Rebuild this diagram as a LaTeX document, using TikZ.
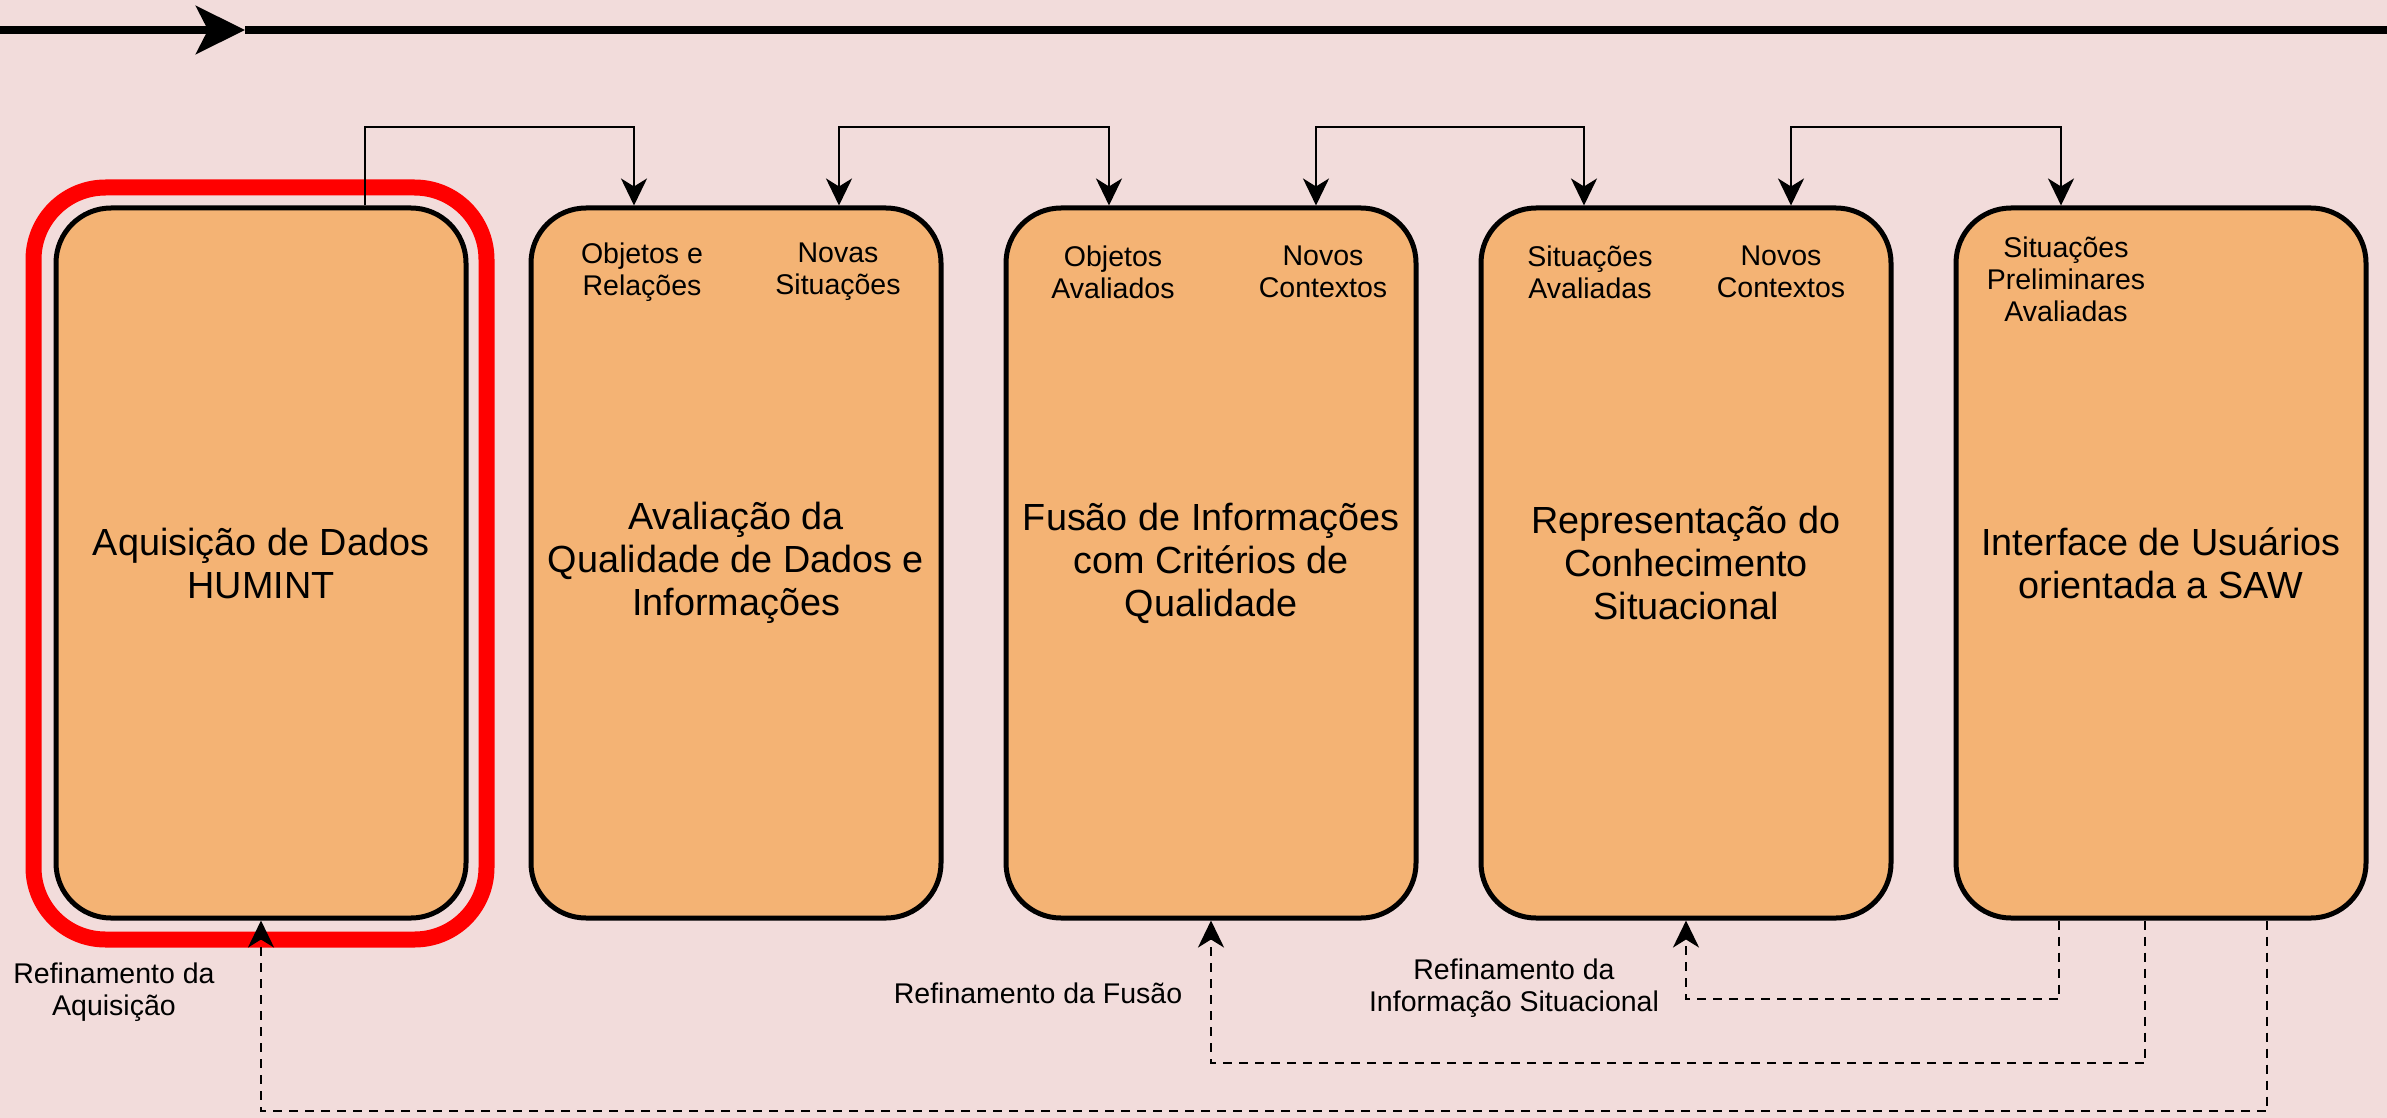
\documentclass[tikz,border=0pt]{standalone}
\usepackage{fontspec}
\setmainfont{Liberation Sans}
\usetikzlibrary{arrows.meta, calc}
\definecolor{bgpink}{HTML}{F2DCDB}
\definecolor{boxorange}{HTML}{F4B374}
\tikzset{stage box/.style={draw=black, line width=5pt, fill=boxorange,
    rounded corners=55pt, minimum width=410pt, minimum height=710pt,
    inner sep=0pt, align=center, font=\fontsize{37.8}{43}\selectfont},
  small text/.style={inner sep=0pt, align=center,
    font=\fontsize{28.5}{32}\selectfont},
  flow arrow/.style={line width=2.5pt, -{Stealth[length=27pt, width=26pt, inset=8pt]}},
  both arrow/.style={line width=2.5pt,
    {Stealth[length=27pt, width=26pt, inset=8pt]}-{Stealth[length=27pt, width=26pt, inset=8pt]}},
  refine arrow/.style={flow arrow, dash pattern=on 9pt off 7pt},}

\begin{document}
\begin{tikzpicture}[x=1pt, y=-1pt]
                    \useasboundingbox (0,0) rectangle (2387,1118);
                    \fill[bgpink] (0,0) rectangle (2387,1118);
                    %Define start and endpoints of the time line:
                    \coordinate (t0) at (0,30);
                    \coordinate (t1) at (245,30);
                    \coordinate (t2) at (2387,30);
                        \draw[line width=8pt, -{Stealth[length=49pt, width=48pt, inset=12pt]}] (t0) -- (t1);
                        \draw[line width=8pt] (t1) -- (t2);
                    %Stages:
                    \node[stage box] (acq) at (261,563) {Aquisição de Dados\\HUMINT};
                    \node[stage box] (qual) at (736,563) {Avaliação da\\Qualidade de Dados e\\Informações};
                    \node[stage box] (fus) at (1211,563) {Fusão de Informações\\com Critérios de\\Qualidade};
                    \node[stage box] (rep) at (1686,563) {Representação do\\Conhecimento\\Situacional};
                    \node[stage box] (ui) at (2161,563) {Interface de Usuários\\orientada a SAW};
                    %Highlight of the first stage - red:
                        \draw[red, line width=16pt, rounded corners=72pt]
                            ([shift={(-20,-18)}]acq.north west) rectangle ([shift={(18,19)}]acq.south east);
                    %Define ports on top of the stages:
                    \coordinate (hi) at (0,127);
                    \coordinate (acqr) at ([xshift=104pt]acq.north);
                    \coordinate (quall) at ([xshift=-102pt]qual.north);
                    \coordinate (qualr) at ([xshift=103pt]qual.north);
                    \coordinate (fusl) at ([xshift=-102pt]fus.north);
                    \coordinate (fusr) at ([xshift=105pt]fus.north);
                    \coordinate (repl) at ([xshift=-102pt]rep.north);
                    \coordinate (repr) at ([xshift=105pt]rep.north);
                    \coordinate (uil) at ([xshift=-100pt]ui.north);
                    %Draw forward flow on top:
                        \draw[flow arrow] (acqr) -- (acqr |- hi) -| (quall);
                        \draw[both arrow] (qualr) -- (qualr |- hi) -| (fusl);
                        \draw[both arrow] (fusr) -- (fusr |- hi) -| (repl);
                        \draw[both arrow] (repr) -- (repr |- hi) -| (uil);
                    %Inputs and outputs inside the stages:
                    \node[small text] (qualin) at (642,272) {Objetos e\\Relações};
                    \node[small text] (qualout) at (838,272) {Novas\\Situações};
                    \node[small text] (fusin) at (1113,272) {Objetos\\Avaliados};
                    \node[small text] (fusout) at (1323,272) {Novos\\Contextos};
                    \node[small text] (repin) at (1590,272) {Situações\\Avaliadas};
                    \node[small text] (repout) at (1781,272) {Novos\\Contextos};
                    \node[small text] (uiin) at (2066,279) {Situações\\Preliminares\\Avaliadas};
                    %Define and draw refinement loops - dashed:
                    \coordinate (lo1) at (0,999);
                    \coordinate (lo2) at (0,1063);
                    \coordinate (lo3) at (0,1111);
                    \coordinate (uia) at ([xshift=-102pt]ui.south);
                    \coordinate (uib) at ([xshift=-16pt]ui.south);
                    \coordinate (uic) at ([xshift=106pt]ui.south);
                        \draw[refine arrow] (uia) -- (uia |- lo1) -| (rep.south);
                        \draw[refine arrow] (uib) -- (uib |- lo2) -| (fus.south);
                        \draw[refine arrow] (uic) -- (uic |- lo3) -| (acq.south);
                    \node[small text] (acqref) at (114,992) {Refinamento da\\Aquisição};
                    \node[small text] (fusref) at (1038,993) {Refinamento da Fusão};
                    \node[small text] (repref) at (1514,988) {Refinamento da\\Informação Situacional};
\end{tikzpicture}
\end{document}
